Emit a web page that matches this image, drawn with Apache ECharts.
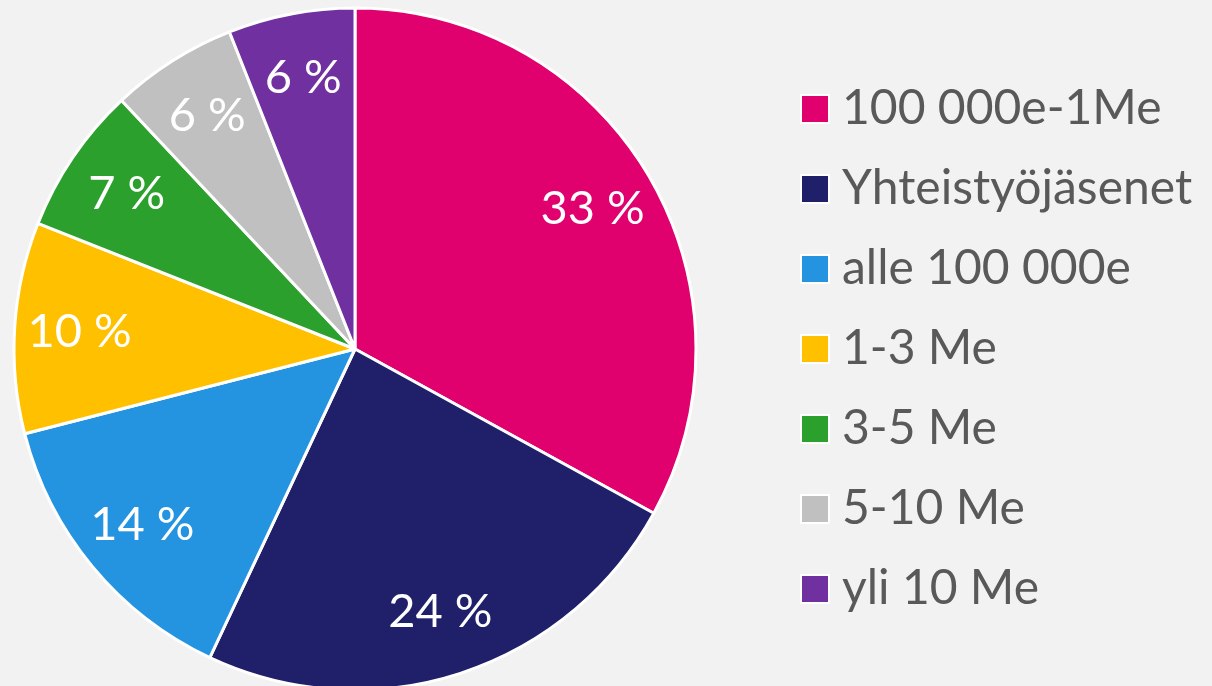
<!DOCTYPE html>
<html>
<head>
<meta charset="utf-8">
<script src="https://cdn.jsdelivr.net/npm/echarts@6/dist/echarts.min.js"></script>
<style>
  html, body { margin: 0; padding: 0; background: #f2f2f2; }
  #chart { width: 1212px; height: 686px; }
</style>
</head>
<body>
<div id="chart"></div>
<script>
const categories = ['100 000e-1Me', 'Yhteistyöjäsenet', 'alle 100 000e', '1-3 Me', '3-5 Me', '5-10 Me', 'yli 10 Me'];
const shares = [33, 24, 14, 10, 7, 6, 6];
const colors = ['#e0006e', '#201f6a', '#2494e0', '#ffc000', '#2ca02c', '#c0c0c0', '#7030a0'];

const pieData = categories.map((name, i) => ({
  name,
  value: shares[i],
  itemStyle: { color: colors[i] },
}));

const chart = echarts.init(document.getElementById('chart'));
chart.setOption({
  backgroundColor: '#f2f2f2',
  animation: false,
  color: colors,
  legend: {
    orient: 'vertical',
    left: 795,
    top: 80,
    icon: 'rect',
    itemWidth: 28,
    itemHeight: 28,
    itemGap: 32,
    itemStyle: { borderColor: '#ffffff', borderWidth: 2 },
    textStyle: {
      fontFamily: 'Lato',
      fontSize: 48,
      lineHeight: 48,
      color: '#595959',
      padding: [0, 0, 0, 8],
    },
    data: categories,
  },
  series: [
    {
      type: 'pie',
      center: [355, 349],
      radius: 341,
      startAngle: 90,
      silent: true,
      label: { show: false },
      labelLine: { show: false },
      itemStyle: { borderColor: '#ffffff', borderWidth: 3 },
      data: pieData,
    },
    {
      // transparent ring, used only to place the labels further out
      type: 'pie',
      center: [355, 349],
      radius: [205, 341],
      startAngle: 90,
      silent: true,
      itemStyle: { color: 'transparent' },
      label: {
        show: true,
        position: 'inside',
        formatter: '{c} %',
        color: '#ffffff',
        fontFamily: 'Lato',
        fontSize: 47,
      },
      labelLine: { show: false },
      data: categories.map((name, i) => ({ name, value: shares[i], itemStyle: { color: 'transparent' } })),
    },
  ],
});
</script>
</body>
</html>
